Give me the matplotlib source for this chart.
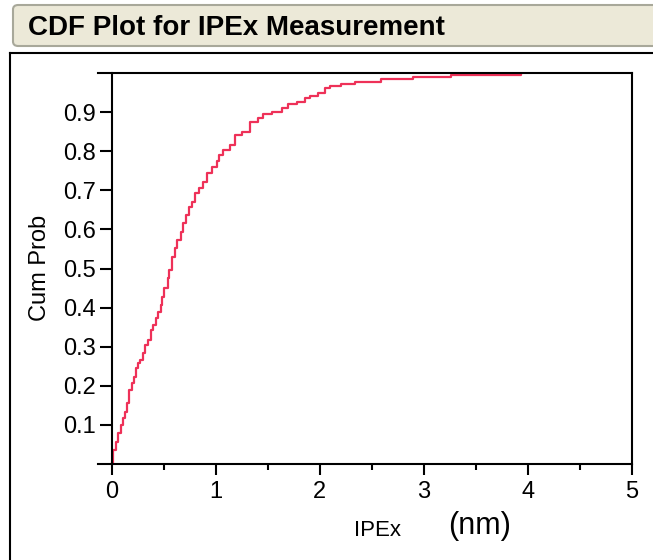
import matplotlib
matplotlib.use("Agg")
import matplotlib.pyplot as plt
from matplotlib.patches import FancyBboxPatch
from matplotlib.lines import Line2D
from matplotlib.ticker import MultipleLocator, FixedLocator

plt.rcParams["font.family"] = ["Liberation Sans", "DejaVu Sans"]

# Empirical CDF of IPEx (nm): step positions and cumulative probability after each step
ipex_nm = [0.0, 0.017, 0.043, 0.065, 0.088, 0.107, 0.130, 0.152, 0.171, 0.194,
           0.216, 0.235, 0.257, 0.274, 0.305, 0.321, 0.347, 0.379, 0.401, 0.424,
           0.449, 0.475, 0.488, 0.507, 0.539, 0.555, 0.583, 0.609, 0.631, 0.664,
           0.689, 0.715, 0.747, 0.775, 0.801, 0.843, 0.881, 0.914, 0.962, 1.010,
           1.035, 1.073, 1.137, 1.185, 1.250, 1.329, 1.409, 1.457, 1.537, 1.633,
           1.697, 1.777, 1.857, 1.905, 1.985, 2.049, 2.097, 2.209, 2.337, 2.593,
           2.896, 3.265, 3.937]
cum_prob = [0.003, 0.036, 0.057, 0.080, 0.100, 0.117, 0.134, 0.157, 0.189, 0.206,
            0.223, 0.245, 0.258, 0.266, 0.283, 0.304, 0.317, 0.343, 0.355, 0.373,
            0.390, 0.407, 0.428, 0.449, 0.475, 0.496, 0.530, 0.552, 0.573, 0.594,
            0.616, 0.637, 0.658, 0.671, 0.692, 0.705, 0.722, 0.743, 0.760, 0.776,
            0.790, 0.803, 0.816, 0.841, 0.850, 0.875, 0.884, 0.895, 0.901, 0.910,
            0.921, 0.927, 0.937, 0.942, 0.948, 0.961, 0.967, 0.971, 0.978, 0.984,
            0.989, 0.995, 1.000]

y_ticks = [0.1, 0.2, 0.3, 0.4, 0.5, 0.6, 0.7, 0.8, 0.9]
x_ticks = [0, 1, 2, 3, 4, 5]

W, H = 653, 560
fig = plt.figure(figsize=(W / 100, H / 100), dpi=100)

# Header panel with the report title
hdr = FancyBboxPatch((13 / W, 1 - 46 / H), 660 / W, 41 / H,
                     boxstyle="round,pad=0,rounding_size=0.008",
                     transform=fig.transFigure, facecolor="#ECE9D8",
                     edgecolor="#A8A89A", linewidth=1.5)
fig.patches.append(hdr)
fig.text(28 / W, 1 - 28 / H, "CDF Plot for IPEx Measurement", fontsize=20,
         fontweight="bold", va="center", ha="left", color="#000000")

# Outer frame of the plot region
fig.add_artist(Line2D([10 / W, 10 / W], [0, 1 - 53 / H], transform=fig.transFigure,
                      color="black", linewidth=1.5))
fig.add_artist(Line2D([10 / W, 1], [1 - 53 / H, 1 - 53 / H], transform=fig.transFigure,
                      color="black", linewidth=1.5))

ax = fig.add_axes([98 / W, 96 / H, 534 / W, 391 / H])
ax.step(ipex_nm, cum_prob, where="post", color="#EE3158", linewidth=1.6, zorder=3)

ax.set_xlim(-0.13, 5)
ax.set_ylim(0, 1)
ax.spines["left"].set_position(("data", 0))
for s in ax.spines.values():
    s.set_linewidth(1.5)
    s.set_zorder(4)

ax.yaxis.set_major_locator(FixedLocator(y_ticks))
ax.set_yticklabels([f"{v:.1f}" for v in y_ticks])
ax.xaxis.set_major_locator(FixedLocator(x_ticks))
ax.xaxis.set_minor_locator(MultipleLocator(0.5))
ax.set_xticklabels([str(v) for v in x_ticks])
ax.tick_params(axis="y", which="major", direction="out", length=9, width=1.5,
               labelsize=17, pad=2.5)
ax.tick_params(axis="x", which="major", direction="out", length=8, width=1.5,
               labelsize=17, pad=4)
ax.tick_params(axis="x", which="minor", direction="out", length=4, width=1.5)

fig.text(40 / W, 1 - 268 / H, "Cum Prob", rotation=90, fontsize=17,
         ha="center", va="center")
fig.text(377 / W, 1 - 531 / H, "IPEx", fontsize=16, ha="center", va="center")
fig.text(480 / W, 1 - 526 / H, "(nm)", fontsize=22, ha="center", va="center")

fig.savefig("out.png", dpi=100)
